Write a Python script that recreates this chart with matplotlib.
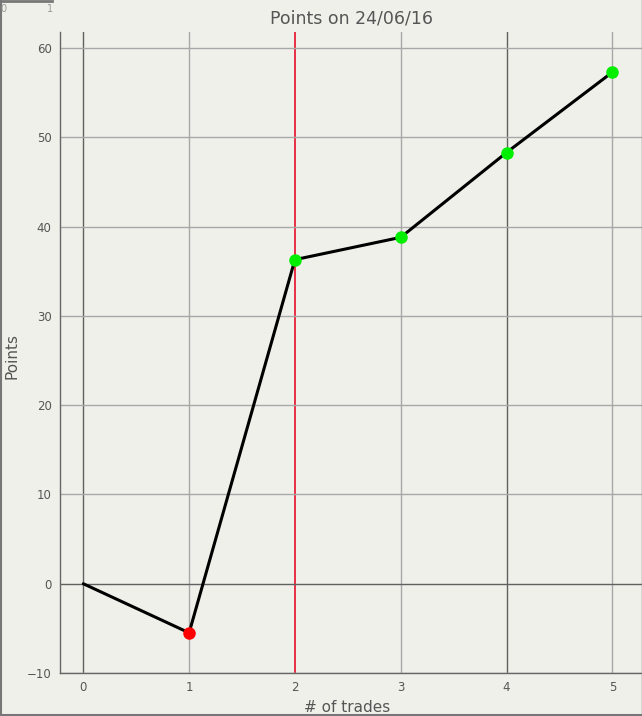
import numpy as np
import matplotlib
matplotlib.use("Agg")
import matplotlib.pyplot as plt
from matplotlib.lines import Line2D

trades = [0, 1, 2, 3, 4, 5]
points = [0.0, -5.5, 36.3, 38.8, 48.3, 57.3]
marker_colors = [None, "#ff0000", "#00ee00", "#00ee00", "#00ee00", "#00ee00"]
xticks = [0, 1, 2, 3, 4, 5]
yticks = [-10, 0, 10, 20, 30, 40, 50, 60]
dark_x = [0, 4]
red_x = 2

bg = "#f0f0ea"
txt = "#555555"

fig = plt.figure(figsize=(6.42, 7.16), dpi=100, facecolor=bg)
ax = fig.add_axes([60 / 642, 1 - 673 / 716, 582 / 642, (673 - 32) / 716])
ax.set_facecolor(bg)

for x in xticks:
    if x == red_x:
        ax.axvline(x, color="#e8203a", lw=1.3, zorder=1)
    elif x in dark_x:
        ax.axvline(x, color="#606060", lw=1.0, zorder=1)
    else:
        ax.axvline(x, color="#a8a8a8", lw=1.0, zorder=1)
for y in yticks:
    ax.axhline(y, color="#606060" if y == 0 else "#a8a8a8", lw=1.0, zorder=1)

ax.plot(trades, points, color="black", lw=2.2, zorder=3, solid_capstyle="round")
for x, y, c in zip(trades, points, marker_colors):
    if c:
        ax.plot(x, y, "o", color=c, ms=8, zorder=4)

ax.set_xlim(-0.22, 5.28)
ax.set_ylim(-10, 61.8)
ax.set_xticks(xticks)
ax.set_yticks(yticks)
ax.tick_params(length=0, colors=txt, labelsize=8.5, pad=6)
for s in ("top", "right"):
    ax.spines[s].set_visible(False)
for s in ("left", "bottom"):
    ax.spines[s].set_color("#666666")
    ax.spines[s].set_linewidth(1.0)

ax.set_title("Points on 24/06/16", color=txt, fontsize=12.5, pad=6)
fig.text(347 / 642, 1 - 707 / 716, "# of trades", color=txt, fontsize=11, ha="center", va="center")
fig.text(12 / 642, 1 - 356 / 716, "Points", color=txt, fontsize=11, ha="center", va="center",
         rotation=90)

# outer frame
fig.add_artist(Line2D([0.5 / 642, 0.5 / 642], [0, 1], color="#777777", lw=1.5, transform=fig.transFigure))
fig.add_artist(Line2D([0, 1], [1 / 716, 1 / 716], color="#777777", lw=1.5, transform=fig.transFigure))
fig.add_artist(Line2D([641.5 / 642, 641.5 / 642], [0, 1], color="#777777", lw=1.0, transform=fig.transFigure))
fig.add_artist(Line2D([0, 52 / 642], [1 - 1 / 716, 1 - 1 / 716], color="#777777", lw=2.0, transform=fig.transFigure))
fig.text(0, 1 - 9 / 716, "0", color="#999999", fontsize=7, ha="left", va="center")
fig.text(50 / 642, 1 - 9 / 716, "1", color="#999999", fontsize=7, ha="center", va="center")

fig.savefig("out.png", dpi=100, facecolor=bg)
